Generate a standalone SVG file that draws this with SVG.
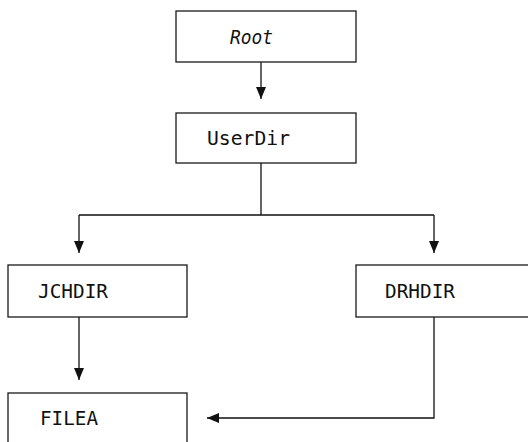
<svg xmlns="http://www.w3.org/2000/svg" width="528" height="442" viewBox="0 0 528 442">
  <style>
    .box { fill: #ffffff; stroke: #1a1a1a; stroke-width: 1.3; }
    .label { font-family: "DejaVu Sans Mono", "Liberation Mono", monospace; font-size: 20px; fill: #111111; }
    .it { font-style: italic; }
    .wire { fill: none; stroke: #111111; stroke-width: 1.3; }
  </style>
  <defs>
    <marker id="arrow" viewBox="0 0 12 10" refX="12" refY="5" markerWidth="12" markerHeight="10" markerUnits="userSpaceOnUse" orient="auto">
      <path d="M0,0 L12,5 L0,10 Z" fill="#111111"/>
    </marker>
  </defs>

  <rect width="528" height="442" fill="#ffffff"/>

  <g id="connectors">
    <path class="wire" d="M261,62 V99" marker-end="url(#arrow)"/>
    <path class="wire" d="M261,163 V215 M79,215 H434"/>
    <path class="wire" d="M79,215 V253" marker-end="url(#arrow)"/>
    <path class="wire" d="M434,215 V253" marker-end="url(#arrow)"/>
    <path class="wire" d="M79,317 V380" marker-end="url(#arrow)"/>
    <path class="wire" d="M434,317 V418 H207" marker-end="url(#arrow)"/>
  </g>

  <g id="root">
    <rect class="box" x="176" y="11" width="180" height="51"/>
    <text class="label it" x="230" y="44" textLength="43" lengthAdjust="spacingAndGlyphs">Root</text>
  </g>

  <g id="userdir">
    <rect class="box" x="176" y="113" width="180" height="50"/>
    <text class="label" x="207" y="145" textLength="83" lengthAdjust="spacingAndGlyphs">UserDir</text>
  </g>

  <g id="jchdir">
    <rect class="box" x="8" y="265" width="179" height="52"/>
    <text class="label" x="38" y="298" textLength="70" lengthAdjust="spacingAndGlyphs">JCHDIR</text>
  </g>

  <g id="drhdir">
    <rect class="box" x="356" y="265" width="190" height="52"/>
    <text class="label" x="385" y="298" textLength="70" lengthAdjust="spacingAndGlyphs">DRHDIR</text>
  </g>

  <g id="filea">
    <rect class="box" x="8" y="393" width="179" height="60"/>
    <text class="label" x="40" y="425" textLength="58" lengthAdjust="spacingAndGlyphs">FILEA</text>
  </g>
</svg>
